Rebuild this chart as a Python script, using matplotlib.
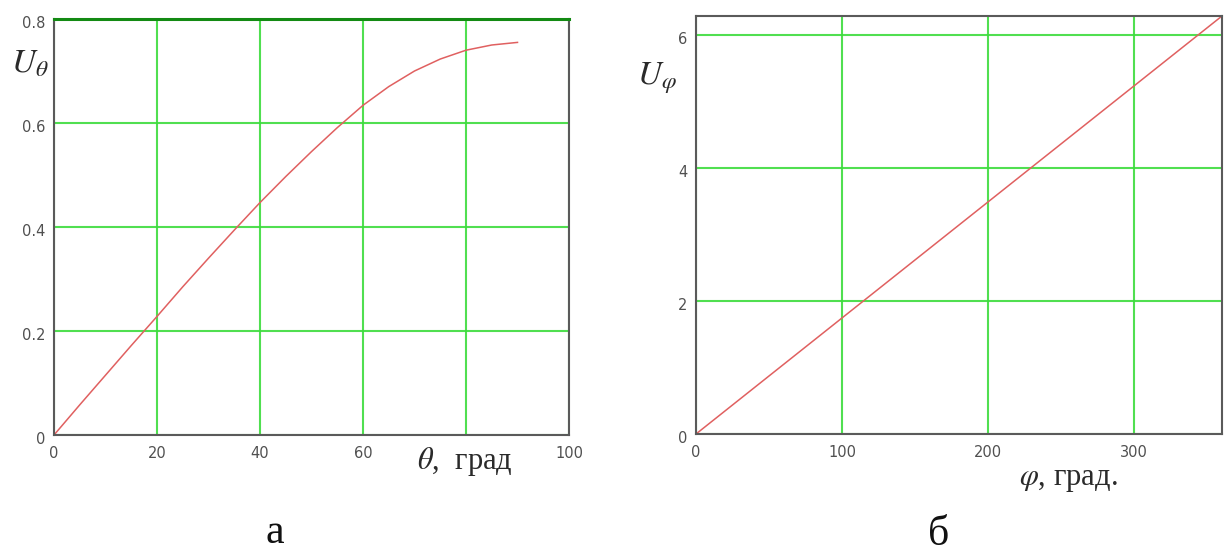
import matplotlib
matplotlib.use("Agg")
import matplotlib.pyplot as plt
import matplotlib.transforms as mtransforms

# Left panel data
theta_deg = [0, 5, 10, 15, 20, 25, 30, 35, 40, 45, 50, 55, 60, 65, 70, 75, 80, 85, 90]
u_theta = [0, 0.058, 0.115, 0.172, 0.228, 0.285, 0.340, 0.394, 0.447, 0.497, 0.545, 0.591, 0.634, 0.670, 0.700, 0.723, 0.740, 0.750, 0.755]
theta_xticks = [0, 20, 40, 60, 80, 100]
theta_xticklabels = ["0", "20", "40", "60", "", "100"]
theta_yticks = [0, 0.2, 0.4, 0.6, 0.8]
theta_yticklabels = ["0", "0.2", "0.4", "0.6", "0.8"]

# Right panel data
phi_deg = [0, 360]
u_phi = [0, 6.283]
phi_xticks = [0, 100, 200, 300]
phi_xticklabels = ["0", "100", "200", "300"]
phi_yticks = [0, 2, 4, 6]
phi_yticklabels = ["0", "2", "4", "6"]

grid_color = "#3ddc3d"
line_color = "#e06060"
frame_color = "#5a5a5a"
tick_color = "#505050"
serif = ["Liberation Serif", "DejaVu Serif"]

W, H = 1225, 554
fig = plt.figure(figsize=(W / 100, H / 100), dpi=100)


def style(ax, xticks, xlabels, yticks, ylabels):
    ax.set_xticks(xticks)
    ax.set_xticklabels(xlabels)
    ax.set_yticks(yticks)
    ax.set_yticklabels(ylabels)
    ax.tick_params(axis="both", length=0, labelsize=10.5, colors=tick_color)
    ax.tick_params(axis="x", pad=8)
    ax.tick_params(axis="y", pad=6)
    off = mtransforms.ScaledTranslation(0, -3 / 100, fig.dpi_scale_trans)
    for lab in ax.get_yticklabels():
        lab.set_transform(lab.get_transform() + off)
    for lab in ax.get_xticklabels() + ax.get_yticklabels():
        lab.set_family("DejaVu Sans")
    ax.grid(True, color=grid_color, linewidth=1.5, alpha=0.9)
    ax.set_axisbelow(True)
    for s in ax.spines.values():
        s.set_color(frame_color)
        s.set_linewidth(1.5)


def fx(px):
    return px / W


def fy(py):
    return 1 - py / H


# Left axes
ax1 = fig.add_axes([fx(54), fy(435), 515 / W, 416 / H])
ax1.plot(theta_deg, u_theta, color=line_color, linewidth=1.1)
ax1.set_xlim(0, 100)
ax1.set_ylim(0, 0.8)
style(ax1, theta_xticks, theta_xticklabels, theta_yticks, theta_yticklabels)
ax1.spines["top"].set_color("#138a13")
ax1.spines["top"].set_linewidth(2.2)
fig.text(fx(11), fy(64), r"$U_{\theta}$", fontsize=24, family=serif,
         va="center", ha="left", math_fontfamily="stix", color="#2a2a2a")
fig.text(fx(465), fy(462), r"$\theta$,  град", fontsize=22, family=serif,
         va="center", ha="center", math_fontfamily="stix", color="#2a2a2a")
fig.text(fx(275), fy(533), "а", fontsize=30, family=serif,
         ha="center", va="center", color="#111111")

# Right axes
ax2 = fig.add_axes([fx(696), fy(434), 526 / W, 418 / H])
ax2.plot(phi_deg, u_phi, color=line_color, linewidth=1.1)
ax2.set_xlim(0, 360)
ax2.set_ylim(0, 6.283)
style(ax2, phi_xticks, phi_xticklabels, phi_yticks, phi_yticklabels)
fig.text(fx(637), fy(78), r"$U_{\varphi}$", fontsize=24, family=serif,
         va="center", ha="left", math_fontfamily="stix", color="#2a2a2a")
fig.text(fx(1068), fy(480), r"$\varphi$, град.", fontsize=22, family=serif,
         va="center", ha="center", math_fontfamily="stix", color="#2a2a2a")
fig.text(fx(939), fy(535), "б", fontsize=30, family=serif,
         ha="center", va="center", color="#111111")

fig.savefig("out.png", dpi=100, facecolor="white")
